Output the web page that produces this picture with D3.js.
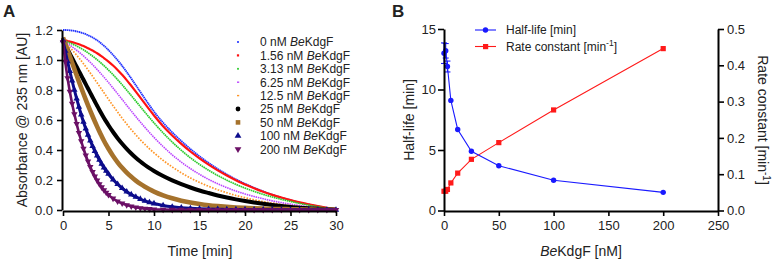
<!DOCTYPE html>
<html lang="en">
  <head>
    <meta charset="utf-8">
    <title>BeKdgF kinetics</title>
    <script src="https://d3js.org/d3.v7.js"></script>
    <style>
      body { margin: 0; background: #fff; }
      text { font-family: "Liberation Sans", Arial, sans-serif; fill: #222; }
    </style>
  </head>

  <body>
    <script>
      // ---- Panel A data: absorbance traces ----
      const times = [0, 0.25, 0.5, 0.75, 1, 1.25, 1.5, 1.75, 2, 2.25, 2.5, 2.75, 3, 3.25, 3.5, 3.75, 4, 4.25, 4.5, 4.75, 5,
        5.5, 6, 6.5, 7, 7.5, 8, 8.5, 9, 9.5, 10,
        11, 12, 13, 14, 15, 16, 17, 18, 19, 20, 21, 22, 23, 24, 25, 26, 27, 28, 29, 30];

      const concLabels = ["0", "1.56", "3.13", "6.25", "12.5", "25", "50", "100", "200"];

      const abs0 = [1.200, 1.200, 1.199, 1.198, 1.196, 1.194, 1.191, 1.187, 1.183, 1.178, 1.172, 1.165, 1.158, 1.150, 1.141, 1.131, 1.120, 1.108, 1.095, 1.081, 1.066,
        1.034, 0.999, 0.961, 0.920, 0.877, 0.832, 0.787, 0.742, 0.698, 0.656,
        0.582, 0.518, 0.460, 0.407, 0.358, 0.314, 0.274, 0.237, 0.204, 0.175, 0.148, 0.124, 0.102, 0.083, 0.066, 0.050, 0.037, 0.025, 0.014, 0.005];
      const abs156 = [1.140, 1.132, 1.127, 1.123, 1.119, 1.115, 1.110, 1.105, 1.099, 1.093, 1.086, 1.079, 1.071, 1.063, 1.054, 1.045, 1.035, 1.024, 1.013, 1.001, 0.989,
        0.963, 0.934, 0.901, 0.866, 0.828, 0.789, 0.749, 0.709, 0.669, 0.630,
        0.559, 0.497, 0.441, 0.390, 0.344, 0.302, 0.264, 0.230, 0.199, 0.170, 0.145, 0.122, 0.101, 0.083, 0.066, 0.051, 0.038, 0.026, 0.015, 0.006];
      const abs313 = [1.135, 1.126, 1.119, 1.113, 1.107, 1.100, 1.093, 1.085, 1.077, 1.068, 1.058, 1.048, 1.037, 1.026, 1.014, 1.002, 0.989, 0.976, 0.962, 0.948, 0.933,
        0.902, 0.869, 0.835, 0.799, 0.763, 0.726, 0.689, 0.652, 0.616, 0.581,
        0.514, 0.453, 0.398, 0.348, 0.304, 0.265, 0.230, 0.199, 0.171, 0.146, 0.124, 0.104, 0.087, 0.071, 0.057, 0.044, 0.032, 0.022, 0.013, 0.005];
      const abs625 = [1.130, 1.119, 1.109, 1.099, 1.088, 1.077, 1.065, 1.053, 1.040, 1.027, 1.013, 0.999, 0.984, 0.969, 0.953, 0.937, 0.920, 0.903, 0.886, 0.868, 0.850,
        0.813, 0.775, 0.737, 0.698, 0.660, 0.623, 0.586, 0.551, 0.517, 0.484,
        0.423, 0.368, 0.319, 0.276, 0.238, 0.204, 0.175, 0.149, 0.127, 0.107, 0.090, 0.075, 0.061, 0.049, 0.039, 0.029, 0.021, 0.014, 0.008, 0.003];
      const abs125 = [1.130, 1.113, 1.098, 1.083, 1.067, 1.050, 1.032, 1.014, 0.995, 0.975, 0.955, 0.934, 0.913, 0.892, 0.870, 0.848, 0.826, 0.804, 0.782, 0.760, 0.738,
        0.695, 0.653, 0.612, 0.573, 0.536, 0.501, 0.468, 0.437, 0.408, 0.381,
        0.331, 0.287, 0.248, 0.214, 0.184, 0.158, 0.135, 0.115, 0.097, 0.082, 0.068, 0.056, 0.046, 0.037, 0.029, 0.022, 0.016, 0.011, 0.007, 0.003];
      const abs25 = [1.130, 1.100, 1.071, 1.042, 1.013, 0.984, 0.955, 0.926, 0.897, 0.868, 0.839, 0.810, 0.781, 0.752, 0.723, 0.695, 0.667, 0.640, 0.614, 0.589, 0.565,
        0.520, 0.479, 0.442, 0.408, 0.377, 0.349, 0.323, 0.300, 0.279, 0.260,
        0.226, 0.197, 0.172, 0.150, 0.130, 0.113, 0.097, 0.083, 0.071, 0.060, 0.050, 0.041, 0.033, 0.026, 0.020, 0.015, 0.011, 0.008, 0.005, 0.003];
      const abs50 = [1.150, 1.108, 1.066, 1.024, 0.982, 0.940, 0.898, 0.856, 0.815, 0.775, 0.736, 0.698, 0.661, 0.625, 0.590, 0.556, 0.523, 0.492, 0.462, 0.434, 0.408,
        0.360, 0.318, 0.281, 0.249, 0.221, 0.196, 0.174, 0.155, 0.138, 0.123,
        0.098, 0.078, 0.062, 0.050, 0.040, 0.032, 0.026, 0.021, 0.017, 0.014, 0.011, 0.009, 0.007, 0.006, 0.005, 0.004, 0.003, 0.002, 0.002, 0.001];
      const abs100 = [1.130, 1.060, 0.990, 0.925, 0.862, 0.800, 0.742, 0.687, 0.635, 0.587, 0.542, 0.500, 0.462, 0.426, 0.393, 0.362, 0.334, 0.307, 0.283, 0.261, 0.240,
        0.203, 0.172, 0.145, 0.122, 0.103, 0.087, 0.073, 0.061, 0.051, 0.043,
        0.030, 0.021, 0.015, 0.011, 0.008, 0.006, 0.005, 0.004, 0.003, 0.003, 0.002, 0.002, 0.002, 0.001, 0.001, 0.001, 0.001, 0.001, 0.001, 0.001];
      const abs200 = [1.120, 0.990, 0.880, 0.790, 0.710, 0.640, 0.575, 0.515, 0.460, 0.410, 0.365, 0.324, 0.287, 0.254, 0.224, 0.197, 0.173, 0.152, 0.133, 0.116, 0.101,
        0.077, 0.058, 0.044, 0.033, 0.025, 0.018, 0.013, 0.010, 0.007, 0.005,
        0.003, 0.002, 0.002, 0.001, 0.001, 0.001, 0.001, 0.001, 0.001, 0.001, 0.001, 0.001, 0.001, 0.001, 0.001, 0.001, 0.001, 0.001, 0.001, 0.001];

      const absSeries = [abs0, abs156, abs313, abs625, abs125, abs25, abs50, abs100, abs200];

      // ---- Panel B data ----
      const enzConc = [0, 1.56, 3.13, 6.25, 12.5, 25, 50, 100, 200];
      const halfLife = [13.0, 13.2, 11.9, 9.1, 6.7, 4.9, 3.7, 2.5, 1.5];
      const halfLifeErr = [0.85, 0.6, 0.45, 0.1, 0.05, 0.05, 0.03, 0.03, 0.03];
      const rateConst = [0.053, 0.053, 0.058, 0.076, 0.103, 0.141, 0.187, 0.277, 0.446];

      const xTicksA = [0, 5, 10, 15, 20, 25, 30];
      const yTicksA = [0, 0.2, 0.4, 0.6, 0.8, 1.0, 1.2];
      const xTicksB = [0, 50, 100, 150, 200, 250];
      const yTicksBL = [0, 5, 10, 15];
      const yTicksBR = [0, 0.1, 0.2, 0.3, 0.4, 0.5];

      // styles per trace
      const traceStyle = [
        { color: "#2233ff", width: 1.8, dash: "1.5,0.5", marker: "sq", size: 1.8 },
        { color: "#ff1111", width: 2.2, dash: null, marker: "sq", size: 2.2 },
        { color: "#2ecc2e", width: 1.7, dash: "1.6,0.6", marker: "sq", size: 1.8 },
        { color: "#bb44ff", width: 1.6, dash: "1.5,0.8", marker: "dash", size: 1.6 },
        { color: "#ff9628", width: 1.7, dash: "1.6,1.4", marker: "dash", size: 1.6 },
        { color: "#000000", width: 4, dash: null, marker: "circle", size: 2.4 },
        { color: "#a5722c", width: 4.6, dash: null, marker: "square", size: 4.6 },
        { color: "#0c0c8c", width: 3, dash: null, marker: "tri", size: 18 },
        { color: "#6b1066", width: 2.6, dash: null, marker: "tridown", size: 18 }
      ];

      const w = 777;
      const h = 261;

      const svg = d3.select("body")
        .append("svg")
        .attr("width", w)
        .attr("height", h);

      // ================= Panel A =================
      const xA = d3.scaleLinear().domain([0, 30]).range([63, 336]);
      const yA = d3.scaleLinear().domain([0, 1.2]).range([210, 30]);

      const line = d3.line()
        .x((d, i) => xA(times[i]))
        .y(d => yA(d))
        .curve(d3.curveMonotoneX);

      const gA = svg.append("g").attr("id", "plotA");

      absSeries.forEach((vals, k) => {
        const st = traceStyle[k];
        gA.append("path")
          .attr("d", line(vals))
          .attr("fill", "none")
          .attr("stroke", st.color)
          .attr("stroke-width", st.width)
          .attr("stroke-dasharray", st.dash);

        if (st.marker === "tri" || st.marker === "tridown") {
          const sym = d3.symbol().type(d3.symbolTriangle).size(st.size);
          gA.append("g").selectAll("path")
            .data(vals)
            .enter().append("path")
            .attr("d", sym)
            .attr("transform", (d, i) => `translate(${xA(times[i])},${yA(d)})` + (st.marker === "tridown" ? " rotate(180)" : ""))
            .attr("fill", st.color);
        }
      });

      // axes A
      const xAxisA = d3.axisBottom(xA).tickValues(xTicksA).tickSize(5).tickSizeOuter(0).tickPadding(5);
      const yAxisA = d3.axisLeft(yA).tickValues(yTicksA).tickSize(5).tickSizeOuter(0).tickPadding(4)
        .tickFormat(d3.format(".1f"));

      function styleAxis(g) {
        g.select(".domain").attr("stroke", "#000").attr("stroke-width", 2);
        g.selectAll(".tick line").attr("stroke", "#000").attr("stroke-width", 1.6);
        g.selectAll(".tick text").attr("font-size", 13).attr("fill", "#222")
          .attr("font-family", "Liberation Sans, Arial, sans-serif");
      }

      svg.append("g")
        .attr("transform", "translate(0,211)")
        .call(xAxisA)
        .call(styleAxis);

      svg.append("g")
        .attr("transform", "translate(62,0)")
        .call(yAxisA)
        .call(styleAxis);

      svg.append("text")
        .attr("x", 200).attr("y", 256)
        .attr("text-anchor", "middle")
        .attr("font-size", 14)
        .text("Time [min]");

      svg.append("text")
        .attr("transform", "translate(27,120) rotate(-90)")
        .attr("text-anchor", "middle")
        .attr("font-size", 14)
        .text("Absorbance @ 235 nm [AU]");

      svg.append("text")
        .attr("x", 3).attr("y", 17)
        .attr("font-size", 17).attr("font-weight", "bold")
        .text("A");

      // legend A
      const legA = svg.append("g").attr("transform", "translate(238,42)");
      concLabels.forEach((c, k) => {
        const st = traceStyle[k];
        const yy = k * 13.4;
        const g = legA.append("g").attr("transform", `translate(0,${yy})`);
        if (st.marker === "sq") {
          g.append("rect").attr("x", -st.size / 2).attr("y", -st.size / 2)
            .attr("width", st.size).attr("height", st.size).attr("fill", st.color);
        } else if (st.marker === "dash") {
          g.append("rect").attr("x", -1).attr("y", -0.7)
            .attr("width", 2.2).attr("height", 1.4).attr("fill", st.color);
        } else if (st.marker === "circle") {
          g.append("circle").attr("r", st.size).attr("fill", st.color);
        } else if (st.marker === "square") {
          g.append("rect").attr("x", -2.3).attr("y", -2.3)
            .attr("width", 4.6).attr("height", 4.6).attr("fill", st.color);
        } else {
          g.append("path")
            .attr("d", d3.symbol().type(d3.symbolTriangle).size(20))
            .attr("transform", st.marker === "tridown" ? "rotate(180)" : null)
            .attr("fill", st.color);
        }
        const t = g.append("text")
          .attr("x", 22).attr("y", 4.3)
          .attr("font-size", 12);
        t.append("tspan").text(c + " nM ");
        t.append("tspan").attr("font-style", "italic").text("Be");
        t.append("tspan").text("KdgF");
      });

      // ================= Panel B =================
      const xB = d3.scaleLinear().domain([0, 250]).range([444, 718]);
      const yBL = d3.scaleLinear().domain([0, 15]).range([210.5, 29]);
      const yBR = d3.scaleLinear().domain([0, 0.5]).range([210.5, 29]);

      const blue = "#1a1aff";
      const red = "#ff1a1a";

      const gB = svg.append("g").attr("id", "plotB");

      // rate constant (red squares)
      gB.append("path")
        .datum(rateConst)
        .attr("d", d3.line().x((d, i) => xB(enzConc[i])).y(d => yBR(d)))
        .attr("fill", "none").attr("stroke", red).attr("stroke-width", 1.1);
      gB.selectAll("rect.rc")
        .data(rateConst)
        .enter().append("rect")
        .attr("class", "rc")
        .attr("x", (d, i) => xB(enzConc[i]) - 2.6)
        .attr("y", d => yBR(d) - 2.6)
        .attr("width", 5.2).attr("height", 5.2)
        .attr("fill", red);

      // half-life (blue circles) with error bars
      gB.append("path")
        .datum(halfLife)
        .attr("d", d3.line().x((d, i) => xB(enzConc[i])).y(d => yBL(d)))
        .attr("fill", "none").attr("stroke", blue).attr("stroke-width", 1.1);

      const eb = gB.append("g").attr("stroke", blue).attr("stroke-width", 1.1);
      halfLife.forEach((d, i) => {
        const x = xB(enzConc[i]);
        const y1 = yBL(d + halfLifeErr[i]);
        const y2 = yBL(d - halfLifeErr[i]);
        if (y2 - y1 < 3) return;
        eb.append("line").attr("x1", x).attr("x2", x).attr("y1", y1).attr("y2", y2);
        eb.append("line").attr("x1", x - 3).attr("x2", x + 3).attr("y1", y1).attr("y2", y1);
        eb.append("line").attr("x1", x - 3).attr("x2", x + 3).attr("y1", y2).attr("y2", y2);
      });

      gB.selectAll("circle.hl")
        .data(halfLife)
        .enter().append("circle")
        .attr("class", "hl")
        .attr("cx", (d, i) => xB(enzConc[i]))
        .attr("cy", d => yBL(d))
        .attr("r", 2.7)
        .attr("fill", blue);

      // axes B
      const xAxisB = d3.axisBottom(xB).tickValues(xTicksB).tickSize(5).tickSizeOuter(0).tickPadding(5);
      const yAxisBL = d3.axisLeft(yBL).tickValues(yTicksBL).tickSize(6).tickSizeOuter(0).tickPadding(2);
      const yAxisBR = d3.axisRight(yBR).tickValues(yTicksBR).tickSize(6).tickSizeOuter(0).tickPadding(3)
        .tickFormat(d3.format(".1f"));

      svg.append("g")
        .attr("transform", "translate(0,211)")
        .call(xAxisB)
        .call(styleAxis);

      svg.append("g")
        .attr("transform", "translate(444,0)")
        .call(yAxisBL)
        .call(styleAxis);

      svg.append("g")
        .attr("transform", "translate(718,0)")
        .call(yAxisBR)
        .call(styleAxis);

      const xl = svg.append("text")
        .attr("x", 581).attr("y", 256)
        .attr("text-anchor", "middle")
        .attr("font-size", 14);
      xl.append("tspan").attr("font-style", "italic").text("Be");
      xl.append("tspan").text("KdgF [nM]");

      svg.append("text")
        .attr("transform", "translate(414,120) rotate(-90)")
        .attr("text-anchor", "middle")
        .attr("font-size", 14)
        .text("Half-life [min]");

      const rl = svg.append("text")
        .attr("transform", "translate(758,120) rotate(90)")
        .attr("text-anchor", "middle")
        .attr("font-size", 14);
      rl.append("tspan").text("Rate constant [min");
      rl.append("tspan").attr("font-size", 10).attr("dy", -5).text("-1");
      rl.append("tspan").attr("dy", 5).text("]");

      svg.append("text")
        .attr("x", 392).attr("y", 17)
        .attr("font-size", 17).attr("font-weight", "bold")
        .text("B");

      // legend B
      const legB = svg.append("g").attr("transform", "translate(475,30)");
      legB.append("line").attr("x1", 0).attr("x2", 21).attr("y1", 0).attr("y2", 0)
        .attr("stroke", blue).attr("stroke-width", 1.1);
      legB.append("circle").attr("cx", 10.5).attr("cy", 0).attr("r", 2.7).attr("fill", blue);
      legB.append("text").attr("x", 31).attr("y", 4.3).attr("font-size", 12).text("Half-life [min]");

      legB.append("line").attr("x1", 0).attr("x2", 21).attr("y1", 16.5).attr("y2", 16.5)
        .attr("stroke", red).attr("stroke-width", 1.1);
      legB.append("rect").attr("x", 8).attr("y", 14).attr("width", 5.2).attr("height", 5.2).attr("fill", red);
      const lt = legB.append("text").attr("x", 31).attr("y", 20.8).attr("font-size", 12);
      lt.append("tspan").text("Rate constant [min");
      lt.append("tspan").attr("font-size", 8.5).attr("dy", -4.5).text("-1");
      lt.append("tspan").attr("dy", 4.5).text("]");
    </script>
  </body>
</html>
